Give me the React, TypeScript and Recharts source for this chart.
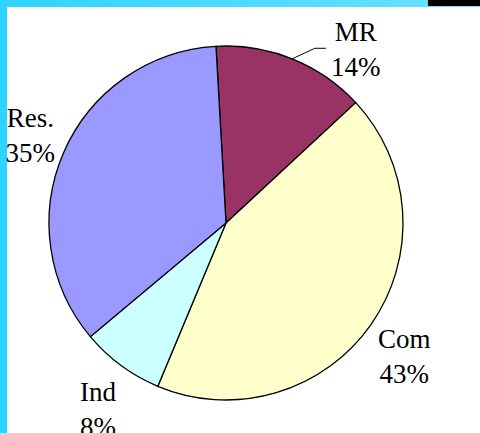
import React from "react";
import { Cell, Pie, PieChart } from "recharts";

const sectors = ["MR", "Com", "Ind", "Res."];
const shares = [14.0, 43.2, 7.6, 35.2];
const sliceColors = ["#993366", "#FFFFCC", "#CCFFFF", "#9999FF"];

// label placement: clockwise angle nudge (deg) and distance beyond the rim
const labelShift = [15, 2, -2, 0.5];
const labelGap = [39, 46, 50, 37];

const data = sectors.map((name, i) => ({ name, value: shares[i] }));

const RAD = Math.PI / 180;
const FONT = "'Liberation Serif', 'Times New Roman', serif";

function polar(cx: number, cy: number, r: number, a: number) {
	return { x: cx + r * Math.cos(a * RAD), y: cy - r * Math.sin(a * RAD) };
}

function SliceLabel( props: any ) {
	const { cx, cy, midAngle, outerRadius, percent, index, name } = props;
	const p = polar(cx, cy, outerRadius + labelGap[index], midAngle - labelShift[index]);
	const base = p.y - 9;
	let leader = null;
	if (index === 0) {
		const a = polar(cx, cy, outerRadius, midAngle);
		const b = polar(cx, cy, outerRadius + 19, midAngle - 5);
		leader = <polyline points={`${a.x},${a.y} ${b.x},${b.y} ${b.x + 11},${b.y}`} fill="none" stroke="#000" strokeWidth={1} />;
	}
	return <g>
		{leader}
		<text x={p.x} y={base} textAnchor="middle" fontFamily={FONT} fontSize={27} fill="#000">
			<tspan x={p.x} y={base}>{name}</tspan>
			<tspan x={p.x} y={base + 35}>{Math.round(percent * 100)}%</tspan>
		</text>
	</g>;
}

function App() {
	return <div style={{ position: "fixed", left: 0, top: 0, width: 480, height: 433, background: "#fff", overflow: "hidden" }}>
		<div style={{ position: "absolute", left: 0, top: 0, width: 480, height: 7, background: "linear-gradient(to right, #2dd4ff, #6ee1ff)" }} />
		<div style={{ position: "absolute", left: 0, top: 0, width: 7, height: 433, background: "#2dd4ff" }} />
		<div style={{ position: "absolute", left: 428, top: 0, width: 52, height: 6, background: "#000" }} />
		<div style={{ position: "absolute", left: 0, top: 0 }}>
			<PieChart width={480} height={433} margin={{ top: 0, right: 0, bottom: 0, left: 0 }}>
				<Pie
					data={data}
					dataKey="value"
					nameKey="name"
					cx={226}
					cy={223}
					outerRadius={177}
					startAngle={93.25}
					endAngle={-266.75}
					stroke="#000"
					strokeWidth={1.3}
					label={SliceLabel}
					labelLine={false}
					isAnimationActive={false}
				>
					{data.map((d, i) => <Cell key={d.name} fill={sliceColors[i]} />)}
				</Pie>
			</PieChart>
		</div>
	</div>;
}

export default App;
